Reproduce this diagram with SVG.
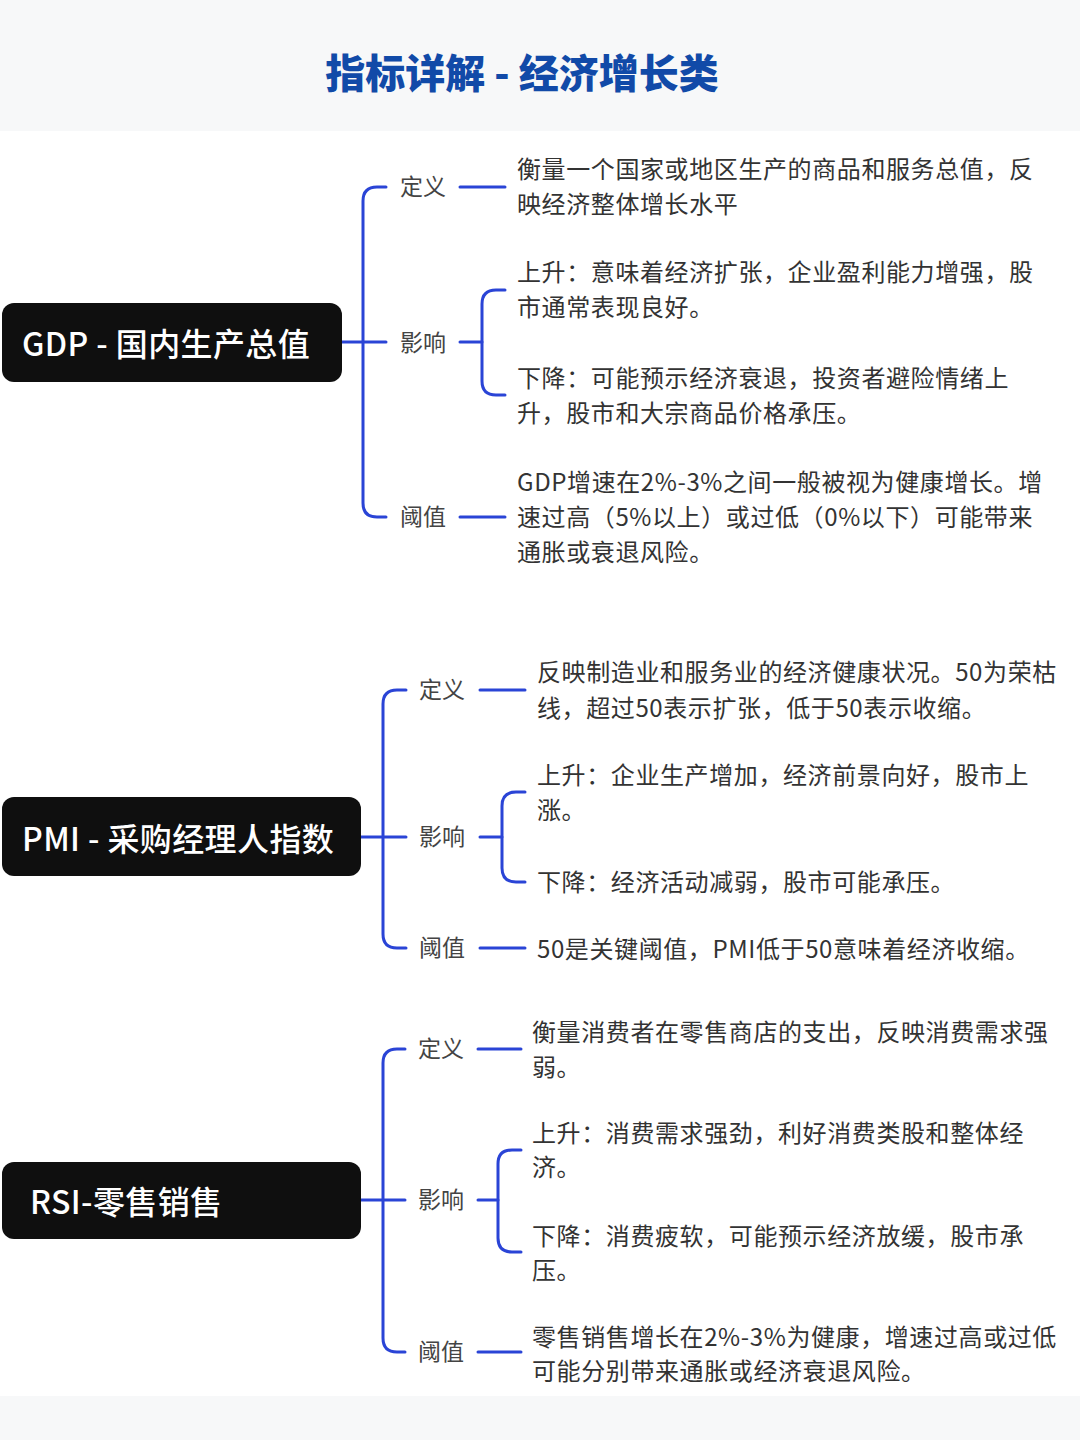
<svg xmlns="http://www.w3.org/2000/svg" width="1080" height="1440" viewBox="0 0 1080 1440">
<style>
.band{fill:#f7f8f9}
.title{font-family:"Noto Sans CJK SC","Noto Sans",sans-serif;font-size:40px;font-weight:900;fill:#114aa8}
.node rect{fill:#0f0f0f}
.nt{font-family:"Noto Sans CJK SC","Noto Sans",sans-serif;font-size:32px;font-weight:500;fill:#ffffff;dominant-baseline:central;letter-spacing:0.4px}
.lbl{font-family:"Noto Sans CJK SC","Noto Sans",sans-serif;font-size:23px;fill:#444;dominant-baseline:central;transform:translateY(-2px)}
.txt{font-family:"Noto Sans CJK SC","Noto Sans",sans-serif;font-size:24px;fill:#333;letter-spacing:0.6px;dominant-baseline:central;transform:translateY(-2px)}
.conn path{fill:none;stroke:#2a44d6;stroke-width:3;stroke-linecap:round}
</style>
<rect x="0" y="0" width="1080" height="1440" fill="#ffffff"/>
<rect class="band" x="0" y="0" width="1080" height="131"/>
<rect class="band" x="0" y="1396" width="1080" height="44"/>
<text class="title" x="522" y="88" text-anchor="middle">指标详解 - 经济增长类</text>

<g id="connectors" class="conn">
<!-- GDP -->
<path d="M342,342 H386"/>
<path d="M386,187 H377 Q363,187 363,201 V503 Q363,517 377,517 H386"/>
<path d="M460,187 H505"/>
<path d="M460,342 H482"/>
<path d="M505,290 H496 Q482,290 482,304 V381 Q482,395 496,395 H505"/>
<path d="M460,517 H505"/>
<!-- PMI -->
<path d="M361,837 H406"/>
<path d="M406,690 H397 Q383,690 383,704 V934 Q383,948 397,948 H406"/>
<path d="M480,690 H525"/>
<path d="M480,837 H502"/>
<path d="M525,792 H516 Q502,792 502,806 V868 Q502,882 516,882 H525"/>
<path d="M480,948 H525"/>
<!-- RSI -->
<path d="M361,1200 H405"/>
<path d="M405,1049 H397 Q383,1049 383,1063 V1338 Q383,1352 397,1352 H405"/>
<path d="M478,1049 H521"/>
<path d="M478,1200 H498"/>
<path d="M521,1150 H512 Q498,1150 498,1164 V1238 Q498,1252 512,1252 H521"/>
<path d="M478,1352 H521"/>
</g>

<!-- GDP -->
<g id="gdp" class="node"><rect x="2" y="303" width="340" height="79" rx="12"/><text class="nt" x="22" y="342">GDP - 国内生产总值</text></g>
<g id="gdp-def"><text class="lbl" x="400" y="187">定义</text></g>
<g id="gdp-imp"><text class="lbl" x="400" y="343">影响</text></g>
<g id="gdp-thr"><text class="lbl" x="400" y="517">阈值</text></g>
<g id="gdp-def-text"><text class="txt" x="517" y="169">衡量一个国家或地区生产的商品和服务总值，反</text><text class="txt" x="517" y="204">映经济整体增长水平</text></g>
<g id="gdp-up"><text class="txt" x="517" y="272">上升：意味着经济扩张，企业盈利能力增强，股</text><text class="txt" x="517" y="307">市通常表现良好。</text></g>
<g id="gdp-down"><text class="txt" x="517" y="378">下降：可能预示经济衰退，投资者避险情绪上</text><text class="txt" x="517" y="413">升，股市和大宗商品价格承压。</text></g>
<g id="gdp-thr-text"><text class="txt" x="517" y="482">GDP增速在2%-3%之间一般被视为健康增长。增</text><text class="txt" x="517" y="517">速过高（5%以上）或过低（0%以下）可能带来</text><text class="txt" x="517" y="552">通胀或衰退风险。</text></g>

<!-- PMI -->
<g id="pmi" class="node"><rect x="2" y="797" width="359" height="79" rx="12"/><text class="nt" x="22" y="837">PMI - 采购经理人指数</text></g>
<g id="pmi-def"><text class="lbl" x="419" y="690">定义</text></g>
<g id="pmi-imp"><text class="lbl" x="419" y="837">影响</text></g>
<g id="pmi-thr"><text class="lbl" x="419" y="948">阈值</text></g>
<g id="pmi-def-text"><text class="txt" x="537" y="672">反映制造业和服务业的经济健康状况。50为荣枯</text><text class="txt" x="537" y="708">线，超过50表示扩张，低于50表示收缩。</text></g>
<g id="pmi-up"><text class="txt" x="537" y="775">上升：企业生产增加，经济前景向好，股市上</text><text class="txt" x="537" y="810">涨。</text></g>
<g id="pmi-down"><text class="txt" x="537" y="882">下降：经济活动减弱，股市可能承压。</text></g>
<g id="pmi-thr-text"><text class="txt" x="537" y="949">50是关键阈值，PMI低于50意味着经济收缩。</text></g>

<!-- RSI -->
<g id="rsi" class="node"><rect x="2" y="1162" width="359" height="77" rx="12"/><text class="nt" x="30" y="1200">RSI-零售销售</text></g>
<g id="rsi-def"><text class="lbl" x="418" y="1049">定义</text></g>
<g id="rsi-imp"><text class="lbl" x="418" y="1200">影响</text></g>
<g id="rsi-thr"><text class="lbl" x="418" y="1352">阈值</text></g>
<g id="rsi-def-text"><text class="txt" x="532" y="1032">衡量消费者在零售商店的支出，反映消费需求强</text><text class="txt" x="532" y="1067">弱。</text></g>
<g id="rsi-up"><text class="txt" x="532" y="1133">上升：消费需求强劲，利好消费类股和整体经</text><text class="txt" x="532" y="1167">济。</text></g>
<g id="rsi-down"><text class="txt" x="532" y="1236">下降：消费疲软，可能预示经济放缓，股市承</text><text class="txt" x="532" y="1270">压。</text></g>
<g id="rsi-thr-text"><text class="txt" x="532" y="1337">零售销售增长在2%-3%为健康，增速过高或过低</text><text class="txt" x="532" y="1371">可能分别带来通胀或经济衰退风险。</text></g>
</svg>
